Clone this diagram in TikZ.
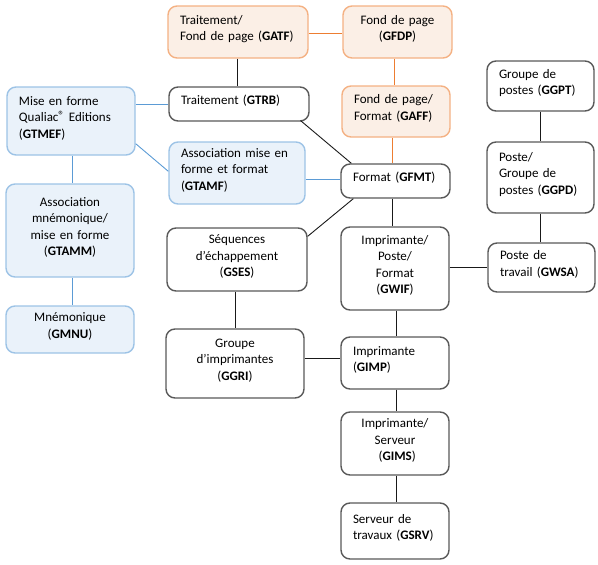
\documentclass[tikz,border=0pt]{standalone}
\usepackage{fontspec}
\setmainfont{Carlito}
\usetikzlibrary{calc}
\definecolor{obord}{HTML}{F4B183}
\definecolor{ofill}{HTML}{FBEFE6}
\definecolor{oline}{HTML}{ED7D31}
\definecolor{bbord}{HTML}{9DC3E6}
\definecolor{bfill}{HTML}{EAF2FA}
\definecolor{bline}{HTML}{5B9BD5}
\definecolor{kbord}{HTML}{595959}
\newcommand{\regmark}{{\fontsize{12}{12}\selectfont\raisebox{2.5pt}{®}}}
\newcommand{\liftbottom}{\endgraf\vspace{6pt}}
\begin{document}
\begin{tikzpicture}[x=1pt,y=-1pt,
  base/.style={rounded corners=9pt, line width=1.4pt, inner xsep=12pt, inner ysep=0pt,
    font=\fontsize{13}{16.5}\selectfont, execute at end node=\liftbottom},
  kbox/.style={base, draw=kbord, fill=white},
  obox/.style={base, draw=obord, fill=ofill},
  ubox/.style={base, draw=bbord, fill=bfill},
  sz/.style 2 args={minimum width=#1, minimum height=#2, text width=#1-24},
  kl/.style={line width=0.9pt, draw=black!90},
  ol/.style={line width=0.9pt, draw=oline},
  ul/.style={line width=0.9pt, draw=bline}]
\useasboundingbox (0,0) rectangle (598,565);
% orange
\node[obox, sz={140}{52}, align=left] (gatf) at (238,32) {Traitement/\\Fond de page (\textbf{GATF})};
\node[obox, sz={109}{52}, align=center] (gfdp) at (397.5,32) {Fond de page\\(\textbf{GFDP})};
\node[obox, sz={108}{51}, align=left] (gaff) at (396,111.5) {Fond de page/\\Format (\textbf{GAFF})};
% blue
\node[ubox, sz={128}{68}, align=left] (gtmef) at (71,121) {Mise en forme\\Qualiac\regmark\ Editions\\(\textbf{GTMEF})};
\node[ubox, sz={136}{62}, align=left] (gtamf) at (237,173) {Association mise en\\forme et format\\(\textbf{GTAMF})};
\node[ubox, sz={128}{93}, align=center] (gtamm) at (70,230.5) {Association\\mnémonique/\\mise en forme\\(\textbf{GTAMM})};
\node[ubox, sz={128}{47}, align=center] (gmnu) at (70,329.5) {Mnémonique\\(\textbf{GMNU})};
% black
\node[kbox, sz={140}{34}, align=left] (gtrb) at (239,104) {Traitement (\textbf{GTRB})};
\node[kbox, sz={109}{34}, align=left] (gfmt) at (395.5,181) {Format (\textbf{GFMT})};
\node[kbox, sz={107}{50}, align=left] (ggpt) at (540.5,86) {Groupe de\\postes (\textbf{GGPT})};
\node[kbox, sz={107}{71}, align=left] (ggpd) at (540.5,177.5) {Poste/\\Groupe de\\postes (\textbf{GGPD})};
\node[kbox, sz={140}{63}, align=center] (gses) at (237,259.5) {Séquences\\d’échappement\\(\textbf{GSES})};
\node[kbox, sz={138}{69}, align=center] (ggri) at (235,363.5) {Groupe\\d’imprimantes\\(\textbf{GGRI})};
\node[kbox, sz={108}{83}, align=center] (gwif) at (395,268.5) {Imprimante/\\Poste/\\Format\\(\textbf{GWIF})};
\node[kbox, sz={107}{49}, align=left] (gwsa) at (541.5,267.5) {Poste de\\travail (\textbf{GWSA})};
\node[kbox, sz={108}{52}, align=left] (gimp) at (395,363) {Imprimante\\(\textbf{GIMP})};
\node[kbox, sz={108}{63}, align=center] (gims) at (395,443.5) {Imprimante/\\Serveur\\\ (\textbf{GIMS})};
\node[kbox, sz={108}{56}, align=left] (gsrv) at (395,531) {Serveur de\\travaux (\textbf{GSRV})};
% orange connectors
\draw[ol] (gatf.east |- 0,33) -- (gfdp.west |- 0,33);
\draw[ol] (gfdp.south -| 394,0) -- (gaff.north -| 394,0);
\draw[ol] (gaff.south -| 392,0) -- (gfmt.north -| 392,0);
% blue connectors
\draw[ul] (gtmef.east |- 0,104) -- (gtrb.west |- 0,104);
\draw[ul] ($(gtmef.south east)+(0,-12)$) -- ($(gtamf.north west)+(0,30)$);
\draw[ul] (gtamf.east |- 0,179) -- (gfmt.west |- 0,179);
\draw[ul] (gtmef.south -| 72,0) -- (gtamm.north -| 72,0);
\draw[ul] (gtamm.south -| 72,0) -- (gmnu.north -| 72,0);
% black connectors
\draw[kl] (gatf.south -| 237,0) -- (gtrb.north -| 237,0);
\draw[kl] ($(gtrb.south east)+(-9,-1)$) -- ($(gfmt.north west)+(11,0)$);
\draw[kl] ($(gfmt.south west)+(13,0)$) -- ($(gses.north east)+(0,9)$);
\draw[kl] (gfmt.south -| 392,0) -- (gwif.north -| 392,0);
\draw[kl] (ggpt.south -| 540,0) -- (ggpd.north -| 540,0);
\draw[kl] (ggpd.south -| 540,0) -- (gwsa.north -| 540,0);
\draw[kl] (gwif.east |- 0,267) -- (gwsa.west |- 0,267);
\draw[kl] (gses.south -| 235,0) -- (ggri.north -| 235,0);
\draw[kl] (ggri.east |- 0,358) -- (gimp.west |- 0,358);
\draw[kl] (gwif.south -| 396,0) -- (gimp.north -| 396,0);
\draw[kl] (gimp.south -| 396,0) -- (gims.north -| 396,0);
\draw[kl] (gims.south -| 396,0) -- (gsrv.north -| 396,0);
\end{tikzpicture}
\end{document}
